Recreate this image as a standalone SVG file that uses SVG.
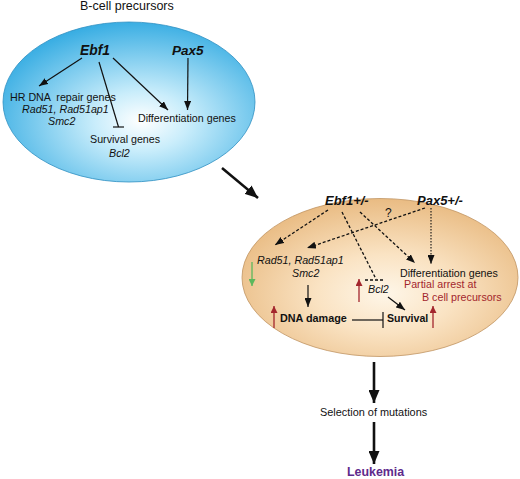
<svg xmlns="http://www.w3.org/2000/svg" width="520" height="479" viewBox="0 0 520 479">
<style>
text{font-family:"Liberation Sans",Arial,Helvetica,sans-serif;fill:#111;}
.t{font-size:10.7px;}
.i{font-size:10.7px;font-style:italic;}
.bi{font-weight:bold;font-style:italic;}
.b{font-weight:bold;}
.red{fill:#a3262d;}
.ln{stroke:#111;stroke-width:1.2;fill:none;}
.dash{stroke:#111;stroke-width:1.3;fill:none;stroke-dasharray:3 2;}
.dot{stroke:#111;stroke-width:1.1;fill:none;stroke-dasharray:1.5 1.5;}
.big{stroke:#111;stroke-width:2.6;fill:none;}
</style>
<defs>
<radialGradient id="gBlue" cx="0.55" cy="0.62" r="0.62">
<stop offset="0" stop-color="#ffffff"/>
<stop offset="0.3" stop-color="#c9edfb"/>
<stop offset="1" stop-color="#3aaee3"/>
</radialGradient>
<radialGradient id="gTan" cx="0.52" cy="0.6" r="0.62">
<stop offset="0" stop-color="#fef6e8"/>
<stop offset="0.4" stop-color="#fae3c3"/>
<stop offset="1" stop-color="#e8b97f"/>
</radialGradient>
<marker id="ah" markerUnits="userSpaceOnUse" markerWidth="9" markerHeight="7" refX="9" refY="3.5" orient="auto"><path d="M0,0 L9,3.5 L0,7 z" fill="#111"/></marker>
<marker id="ahBig" markerUnits="userSpaceOnUse" markerWidth="13" markerHeight="11" refX="13" refY="5.5" orient="auto"><path d="M0,0 L13,5.5 L0,11 z" fill="#111"/></marker>
<marker id="ahRed" markerUnits="userSpaceOnUse" markerWidth="7" markerHeight="7" refX="7" refY="3.5" orient="auto"><path d="M0,0 L7,3.5 L0,7 z" fill="#a3262d"/></marker>
<marker id="ahGreen" markerUnits="userSpaceOnUse" markerWidth="7" markerHeight="7" refX="7" refY="3.5" orient="auto"><path d="M0,0 L7,3.5 L0,7 z" fill="#5cb85c"/></marker>
</defs>

<rect width="520" height="479" fill="#ffffff"/>

<g id="top-cell">
<text x="80" y="10" style="font-size:12.5px">B-cell precursors</text>
<ellipse cx="129" cy="102" rx="126" ry="80" fill="url(#gBlue)" stroke="#2e8fc2" stroke-width="0.8"/>
</g>
<g id="ebf1"><text x="80" y="55" class="bi" style="font-size:13.8px">Ebf1</text></g>
<g id="pax5"><text x="172" y="55" class="bi" style="font-size:13.5px">Pax5</text></g>
<g id="hr-repair">
<text x="10" y="101" class="t" xml:space="preserve">HR DNA  repair genes</text>
<text x="22" y="113" class="i">Rad51, Rad51ap1</text>
<text x="48" y="125" class="i">Smc2</text>
</g>
<g id="diff-top"><text x="138" y="122" class="t">Differentiation genes</text></g>
<g id="survival-top">
<text x="90" y="143" class="t">Survival genes</text>
<text x="109" y="157" class="i">Bcl2</text>
</g>

<g id="bottom-cell">
<ellipse cx="380" cy="277.5" rx="138" ry="79" fill="url(#gTan)" stroke="#c09462" stroke-width="0.8"/>
</g>
<g id="ebf1-het"><text x="325" y="205" class="bi" style="font-size:13px">Ebf1+/-</text></g>
<g id="pax5-het"><text x="417" y="205" class="bi" style="font-size:13px">Pax5+/-</text></g>
<g id="question"><text x="385" y="217" style="font-size:12px">?</text></g>
<g id="rad51-bottom">
<text x="257" y="264" class="i">Rad51, Rad51ap1</text>
<text x="292" y="277" class="i">Smc2</text>
</g>
<g id="diff-bottom">
<text x="400" y="277" class="t">Differentiation genes</text>
<text x="404" y="288" class="t red">Partial arrest at</text>
<text x="422" y="301" class="t red">B cell precursors</text>
</g>
<g id="bcl2-bottom"><text x="368" y="293" class="i">Bcl2</text></g>
<g id="dna-damage"><text x="280" y="322" class="b" style="font-size:10.8px">DNA damage</text></g>
<g id="survival-bottom"><text x="387" y="322" class="b" style="font-size:10.6px">Survival</text></g>
<g id="selection"><text x="320" y="416" class="t" style="font-size:10.9px">Selection of mutations</text></g>
<g id="leukemia"><text x="347" y="476" class="b" style="font-size:12.4px;fill:#5e2a8c">Leukemia</text></g>

<g id="connectors">
<line class="ln" x1="82" y1="58" x2="39" y2="86" marker-end="url(#ah)"/>
<line class="ln" x1="99" y1="62" x2="118.5" y2="127"/>
<line class="ln" x1="113" y1="127" x2="124" y2="127"/>
<line class="ln" x1="113" y1="58" x2="168" y2="110" marker-end="url(#ah)"/>
<line class="ln" x1="188" y1="58" x2="187.5" y2="110" marker-end="url(#ah)"/>

<line class="big" x1="222" y1="168" x2="258" y2="198" marker-end="url(#ahBig)"/>

<line class="dash" x1="328" y1="210" x2="275" y2="245" marker-end="url(#ah)"/>
<line class="dash" x1="425" y1="208" x2="307" y2="248" marker-end="url(#ah)"/>
<line class="dash" x1="342" y1="212" x2="376" y2="279"/>
<line class="dash" x1="365" y1="280" x2="383" y2="280"/>
<line class="dash" x1="360" y1="212" x2="415" y2="263" marker-end="url(#ah)"/>
<line class="dot" x1="431" y1="208" x2="431" y2="264" marker-end="url(#ah)"/>

<line x1="252" y1="262" x2="252" y2="286" stroke="#5cb85c" stroke-width="1.3" marker-end="url(#ahGreen)"/>
<line x1="359" y1="302" x2="359" y2="279" stroke="#a3262d" stroke-width="1.3" marker-end="url(#ahRed)"/>
<line x1="274" y1="328" x2="274" y2="306" stroke="#a3262d" stroke-width="1.3" marker-end="url(#ahRed)"/>
<line x1="433" y1="328" x2="433" y2="306" stroke="#a3262d" stroke-width="1.3" marker-end="url(#ahRed)"/>

<line class="ln" x1="308" y1="285" x2="308" y2="307" marker-end="url(#ah)"/>
<line class="ln" x1="388" y1="297" x2="405" y2="310" marker-end="url(#ah)"/>
<line class="ln" x1="352" y1="320" x2="383" y2="320"/>
<line class="ln" x1="383" y1="312" x2="383" y2="328"/>

<line class="big" x1="374" y1="362" x2="374" y2="403" marker-end="url(#ahBig)"/>
<line class="big" x1="374" y1="422" x2="374" y2="464" marker-end="url(#ahBig)"/>
</g>
</svg>
